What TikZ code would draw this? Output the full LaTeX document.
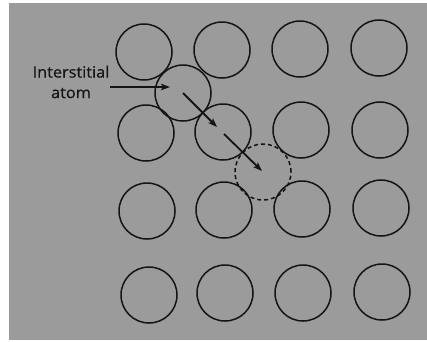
\documentclass[tikz,border=0pt]{standalone}
\usepackage{fontspec}
\setmainfont[FakeBold=0.6]{Open Sans}
\usetikzlibrary{arrows.meta}
\definecolor{bg}{RGB}{155,155,155}
\definecolor{ink}{RGB}{20,20,20}
\tikzset{
  atom/.style={circle, draw=ink, line width=1.5pt, minimum size=56pt, inner sep=0pt},
  vacant/.style={atom, dash pattern=on 4pt off 3pt},
  mover/.style={draw=ink, line width=1.8pt, -{Stealth[length=9pt,width=6.5pt,inset=2pt]}},
  lbl/.style={font=\fontsize{15.5}{20.5}\selectfont, text=ink, align=center, inner sep=0pt, xscale=1.05}
}
\begin{document}
\begin{tikzpicture}[x=1pt,y=-1pt]
\useasboundingbox (0,0) rectangle (427,341);
\fill[white] (0,0) rectangle (427,341);
\fill[bg] (9,3) rectangle (427,340);
% row 1
\node[atom] (a11) at (144,52) {};
\node[atom] (a12) at (222,50) {};
\node[atom] (a13) at (300,49) {};
\node[atom] (a14) at (379,48) {};
% row 2
\node[atom] (a21) at (146,133) {};
\node[atom] (a22) at (223,132) {};
\node[atom] (a23) at (301,130) {};
\node[atom] (a24) at (380,130) {};
% row 3
\node[atom] (a31) at (147,211) {};
\node[atom] (a32) at (224,210) {};
\node[atom] (a33) at (302,209) {};
\node[atom] (a34) at (381,208) {};
% row 4
\node[atom] (a41) at (149,295) {};
\node[atom] (a42) at (225,293) {};
\node[atom] (a43) at (303,293) {};
\node[atom] (a44) at (382,292) {};
% interstitial and new site
\node[atom] (int) at (183,93) {};
\node[vacant] (site) at (263,172) {};
% label
\node[lbl] (label) at (71,82) {Interstitial\\atom};
\coordinate (lblend) at (110,87);
\coordinate (lbltip) at (170,87);
\draw[mover] (lblend) -- (lbltip);
% jump arrows
\coordinate (p0) at (183,93);
\coordinate (p1) at (217,127);
\coordinate (p2) at (224,134);
\coordinate (p3) at (262,171);
\draw[mover] (p0) -- (p1);
\draw[mover] (p2) -- (p3);
\end{tikzpicture}
\end{document}
